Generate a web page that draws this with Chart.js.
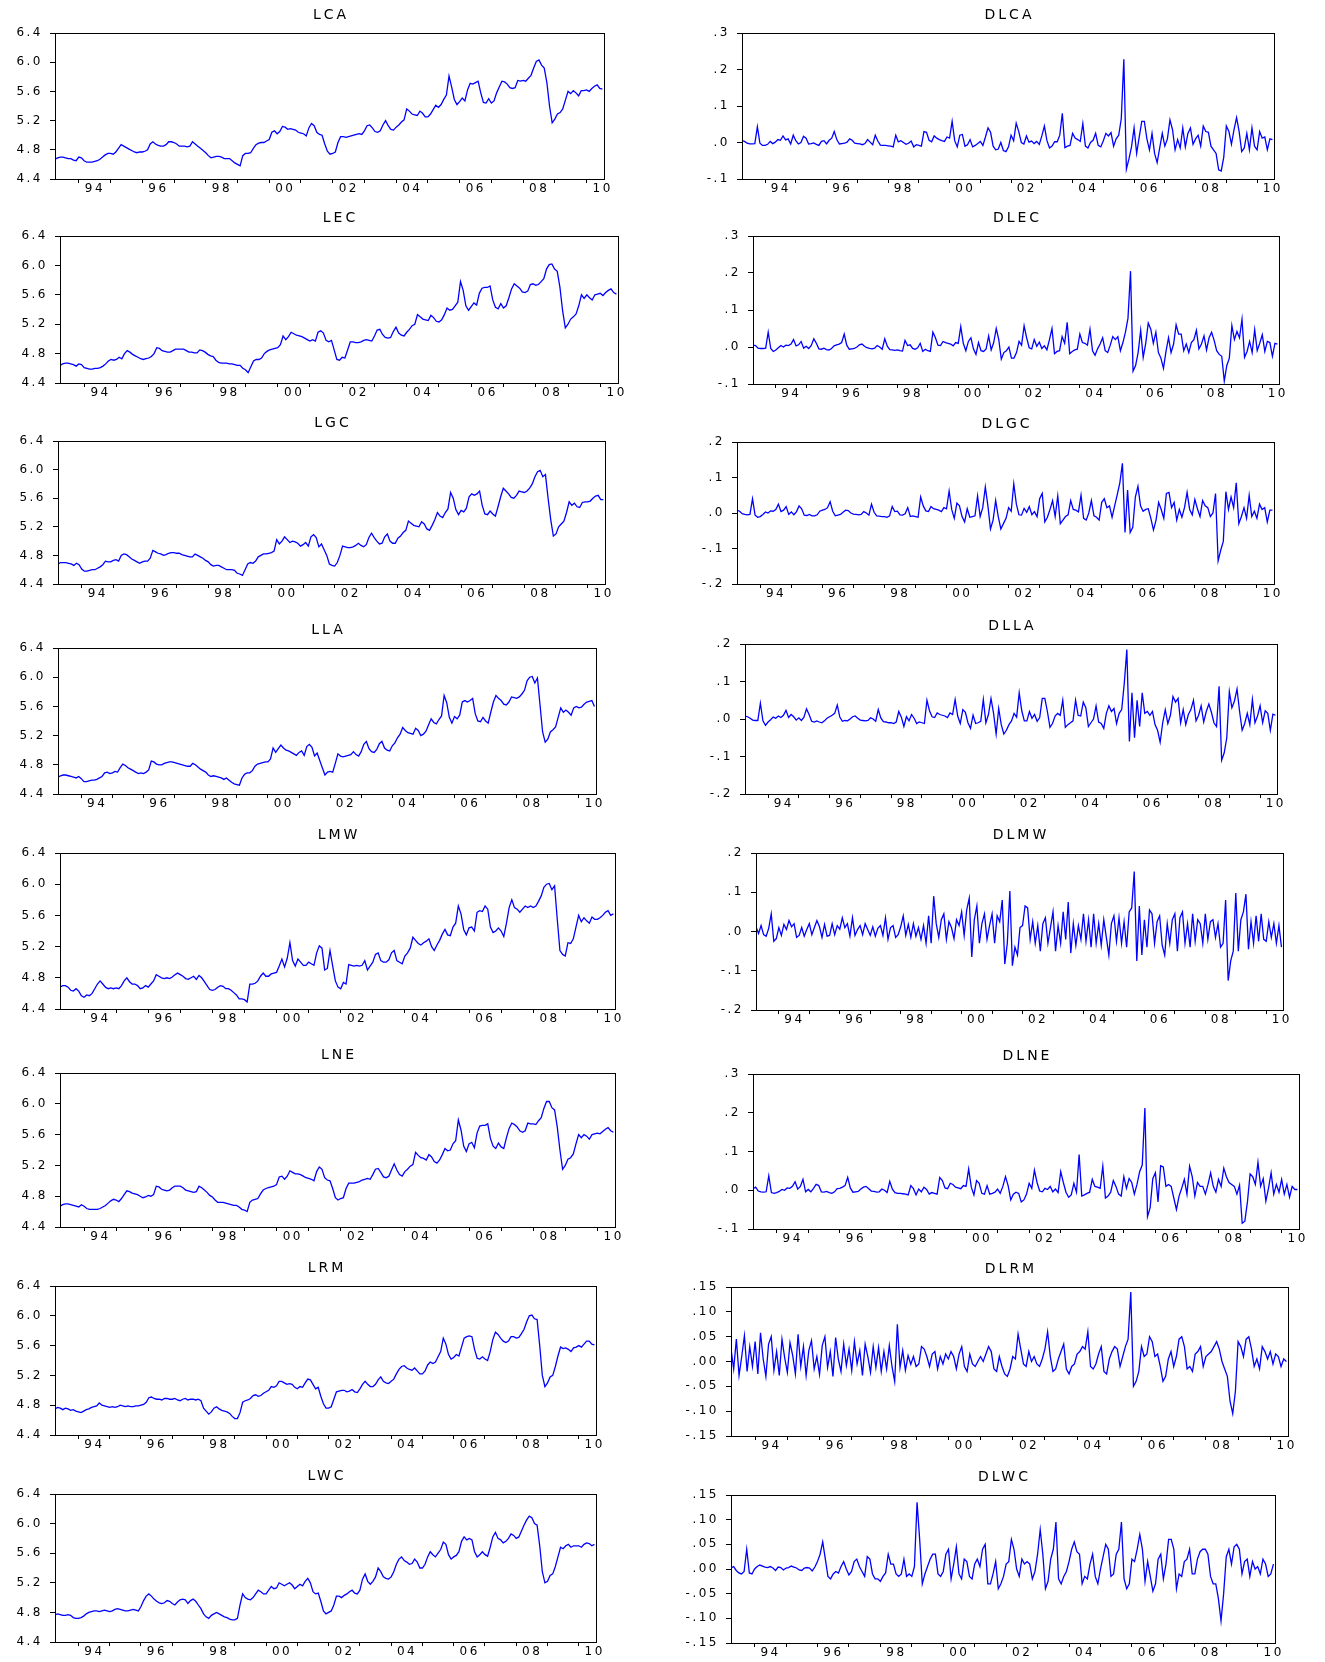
<!DOCTYPE html>
<html>
<head>
<meta charset="utf-8">
<title>Regional gasoline price series</title>
<script src="https://cdn.jsdelivr.net/npm/chart.js@4.4.1/dist/chart.umd.min.js"></script>
<style>
  html, body { margin: 0; padding: 0; background: #fff; }
  #page { position: relative; width: 1325px; height: 1662px; overflow: hidden; }
  .panel { position: absolute; }
</style>
</head>
<body>
<div id="page"></div>
<script>
// one value per month, first observation April 1993
const startYear = 1993.25;
const xMin = 1993.25;
const xMax = 2010.55;
const xTickYears = [1994, 1995, 1996, 1997, 1998, 1999, 2000, 2001, 2002, 2003, 2004, 2005, 2006, 2007, 2008, 2009, 2010];
const xTickLabels = ["94", "", "96", "", "98", "", "00", "", "02", "", "04", "", "06", "", "08", "", "10"];

// ---- levels ----
const lca = [
  4.67, 4.69, 4.70, 4.70, 4.69, 4.68, 4.68, 4.66, 4.65,
  4.70, 4.69, 4.65, 4.63, 4.63, 4.63, 4.64, 4.65, 4.67, 4.70, 4.73, 4.75,
  4.75, 4.74, 4.77, 4.82, 4.87, 4.85, 4.83, 4.81, 4.79, 4.77, 4.76, 4.77,
  4.77, 4.78, 4.80, 4.88, 4.91, 4.88, 4.86, 4.85, 4.85, 4.87, 4.91, 4.91,
  4.90, 4.88, 4.85, 4.85, 4.85, 4.84, 4.85, 4.91, 4.88, 4.85, 4.82, 4.79,
  4.76, 4.72, 4.69, 4.70, 4.71, 4.71, 4.70, 4.68, 4.68, 4.68, 4.65, 4.62,
  4.60, 4.58, 4.72, 4.75, 4.75, 4.76, 4.82, 4.87, 4.89, 4.90, 4.90, 4.92,
  4.94, 5.04, 5.06, 5.02, 5.05, 5.12, 5.11, 5.08, 5.09, 5.08, 5.07, 5.04,
  5.03, 5.02, 4.99, 5.10, 5.16, 5.13, 5.04, 5.01, 5.00, 4.88, 4.78, 4.74,
  4.75, 4.77, 4.90, 4.98, 4.98, 4.97, 4.98, 4.99, 5.00, 5.01, 5.02, 5.01,
  5.06, 5.13, 5.14, 5.10, 5.05, 5.04, 5.06, 5.14, 5.20, 5.13, 5.08, 5.07,
  5.11, 5.14, 5.18, 5.21, 5.36, 5.33, 5.29, 5.28, 5.27, 5.33, 5.30, 5.25,
  5.25, 5.29, 5.35, 5.41, 5.38, 5.42, 5.49, 5.55, 5.81, 5.66, 5.49, 5.42,
  5.46, 5.51, 5.47, 5.62, 5.71, 5.70, 5.72, 5.74, 5.58, 5.45, 5.44, 5.50,
  5.44, 5.47, 5.58, 5.66, 5.74, 5.73, 5.70, 5.65, 5.64, 5.65, 5.75, 5.74,
  5.75, 5.74, 5.78, 5.82, 5.92, 6.01, 6.03, 5.96, 5.92, 5.72, 5.40, 5.17,
  5.22, 5.29, 5.31, 5.36, 5.48, 5.60, 5.57, 5.61, 5.58, 5.54, 5.61, 5.61,
  5.62, 5.60, 5.64, 5.67, 5.69, 5.64, 5.63
];

const lec = [
  4.64, 4.66, 4.67, 4.67, 4.66, 4.65, 4.63, 4.66, 4.65,
  4.61, 4.60, 4.59, 4.59, 4.60, 4.60, 4.61, 4.63, 4.66, 4.70, 4.72, 4.71,
  4.72, 4.75, 4.73, 4.80, 4.84, 4.82, 4.79, 4.77, 4.75, 4.73, 4.72, 4.73,
  4.74, 4.76, 4.80, 4.88, 4.87, 4.84, 4.83, 4.82, 4.82, 4.84, 4.86, 4.86,
  4.86, 4.86, 4.84, 4.82, 4.82, 4.81, 4.81, 4.85, 4.84, 4.82, 4.79, 4.77,
  4.76, 4.71, 4.68, 4.67, 4.67, 4.67, 4.66, 4.66, 4.65, 4.64, 4.64, 4.60,
  4.58, 4.54, 4.62, 4.70, 4.72, 4.72, 4.74, 4.80, 4.83, 4.85, 4.86, 4.87,
  4.88, 4.92, 5.04, 4.99, 5.03, 5.09, 5.07, 5.05, 5.04, 5.03, 5.01, 4.99,
  4.97, 4.99, 4.97, 5.09, 5.11, 5.08, 4.98, 4.96, 4.98, 4.85, 4.72, 4.71,
  4.75, 4.74, 4.85, 4.96, 4.96, 4.95, 4.95, 4.96, 4.98, 4.99, 4.98, 4.97,
  5.04, 5.12, 5.13, 5.06, 5.02, 5.01, 5.02, 5.10, 5.16, 5.08, 5.05, 5.04,
  5.09, 5.13, 5.18, 5.20, 5.33, 5.30, 5.27, 5.26, 5.25, 5.32, 5.29, 5.24,
  5.23, 5.26, 5.33, 5.42, 5.39, 5.40, 5.45, 5.50, 5.78, 5.66, 5.45, 5.39,
  5.44, 5.49, 5.46, 5.62, 5.69, 5.70, 5.70, 5.72, 5.53, 5.43, 5.41, 5.48,
  5.42, 5.45, 5.56, 5.68, 5.75, 5.72, 5.69, 5.64, 5.63, 5.65, 5.74, 5.75,
  5.73, 5.74, 5.78, 5.82, 5.95, 6.01, 6.02, 5.95, 5.92, 5.70, 5.38, 5.15,
  5.20, 5.27, 5.30, 5.34, 5.45, 5.60, 5.55, 5.60, 5.56, 5.53, 5.60, 5.61,
  5.62, 5.59, 5.63, 5.66, 5.68, 5.63, 5.61
];

const lgc = [
  4.68, 4.70, 4.70, 4.70, 4.69, 4.68, 4.66, 4.69, 4.67,
  4.61, 4.58, 4.58, 4.59, 4.60, 4.60, 4.62, 4.64, 4.67, 4.72, 4.71, 4.71,
  4.73, 4.74, 4.72, 4.80, 4.82, 4.81, 4.78, 4.75, 4.73, 4.71, 4.69, 4.71,
  4.72, 4.72, 4.76, 4.87, 4.85, 4.83, 4.82, 4.80, 4.81, 4.83, 4.84, 4.84,
  4.83, 4.83, 4.81, 4.80, 4.79, 4.78, 4.78, 4.82, 4.80, 4.78, 4.76, 4.73,
  4.71, 4.67, 4.65, 4.66, 4.66, 4.64, 4.62, 4.60, 4.60, 4.60, 4.59, 4.55,
  4.54, 4.52, 4.60, 4.68, 4.70, 4.69, 4.72, 4.78, 4.80, 4.82, 4.82, 4.83,
  4.84, 4.86, 5.02, 4.96, 5.00, 5.06, 5.02, 4.98, 5.00, 4.99, 4.97, 4.93,
  4.95, 4.98, 4.93, 5.06, 5.09, 5.05, 4.92, 4.96, 4.88, 4.80, 4.68, 4.66,
  4.65, 4.70, 4.80, 4.93, 4.92, 4.91, 4.91, 4.92, 4.94, 4.97, 4.94, 4.92,
  4.95, 5.05, 5.11, 5.05, 5.00, 4.96, 4.97, 5.06, 5.10, 5.00, 4.97, 4.97,
  5.04, 5.07, 5.12, 5.15, 5.28, 5.25, 5.22, 5.21, 5.20, 5.27, 5.24, 5.17,
  5.15, 5.22, 5.30, 5.40, 5.35, 5.33, 5.40, 5.45, 5.68, 5.60, 5.44, 5.37,
  5.43, 5.41, 5.46, 5.62, 5.66, 5.64, 5.66, 5.70, 5.50, 5.38, 5.37, 5.42,
  5.38, 5.35, 5.48, 5.62, 5.74, 5.70, 5.66, 5.61, 5.60, 5.64, 5.70, 5.69,
  5.68, 5.70, 5.74, 5.80, 5.90, 5.97, 5.99, 5.90, 5.93, 5.60, 5.30, 5.07,
  5.10, 5.20, 5.24, 5.28, 5.40, 5.55, 5.50, 5.53, 5.48, 5.47, 5.54, 5.55,
  5.55, 5.56, 5.60, 5.63, 5.64, 5.58, 5.58
];

const lla = [
  4.63, 4.65, 4.66, 4.66, 4.65, 4.64, 4.63, 4.62, 4.64,
  4.61, 4.57, 4.57, 4.58, 4.59, 4.59, 4.60, 4.62, 4.64, 4.69, 4.70, 4.68,
  4.69, 4.71, 4.70, 4.76, 4.81, 4.79, 4.76, 4.74, 4.72, 4.70, 4.68, 4.69,
  4.68, 4.70, 4.73, 4.85, 4.84, 4.81, 4.80, 4.80, 4.82, 4.83, 4.84, 4.84,
  4.83, 4.82, 4.81, 4.80, 4.79, 4.78, 4.78, 4.82, 4.80, 4.77, 4.74, 4.72,
  4.70, 4.66, 4.64, 4.65, 4.64, 4.63, 4.62, 4.60, 4.62, 4.59, 4.56, 4.54,
  4.53, 4.52, 4.62, 4.67, 4.69, 4.69, 4.72, 4.78, 4.81, 4.82, 4.83, 4.84,
  4.84, 4.88, 5.03, 4.97, 5.02, 5.07, 5.03, 5.00, 4.99, 4.97, 4.95, 4.93,
  4.97, 4.99, 4.93, 5.05, 5.08, 5.04, 4.92, 4.96, 4.86, 4.76, 4.66, 4.70,
  4.71, 4.70, 4.82, 4.95, 4.92, 4.91, 4.92, 4.93, 4.94, 4.98, 4.94, 4.92,
  4.98, 5.08, 5.12, 5.02, 4.98, 4.97, 5.01, 5.09, 5.12, 5.03, 5.00, 4.99,
  5.06, 5.10, 5.17, 5.22, 5.31, 5.27, 5.24, 5.23, 5.22, 5.30, 5.27, 5.20,
  5.22, 5.26, 5.35, 5.43, 5.38, 5.36, 5.42, 5.47, 5.75, 5.65, 5.45, 5.37,
  5.46, 5.43, 5.48, 5.66, 5.68, 5.66, 5.68, 5.71, 5.50, 5.40, 5.39, 5.45,
  5.40, 5.37, 5.52, 5.66, 5.75, 5.71, 5.68, 5.63, 5.62, 5.66, 5.73, 5.72,
  5.71, 5.73, 5.77, 5.82, 5.95, 6.00, 6.01, 5.92, 5.99, 5.62, 5.25, 5.11,
  5.15, 5.25, 5.28, 5.32, 5.45, 5.58, 5.52, 5.55, 5.52, 5.48, 5.58, 5.60,
  5.58, 5.59, 5.63, 5.66, 5.67, 5.68, 5.60
];

const lmw = [
  4.68, 4.70, 4.70, 4.68, 4.64, 4.63, 4.66, 4.63, 4.57,
  4.55, 4.58, 4.57, 4.60, 4.66, 4.72, 4.76, 4.72, 4.68, 4.66, 4.67, 4.66,
  4.67, 4.66, 4.70, 4.76, 4.80, 4.75, 4.72, 4.72, 4.70, 4.66, 4.67, 4.70,
  4.68, 4.72, 4.76, 4.84, 4.82, 4.80, 4.79, 4.80, 4.79, 4.81, 4.84, 4.86,
  4.84, 4.82, 4.79, 4.78, 4.80, 4.82, 4.78, 4.83, 4.80, 4.75, 4.70, 4.65,
  4.64, 4.65, 4.68, 4.70, 4.69, 4.66, 4.66, 4.64, 4.61, 4.58, 4.53, 4.53,
  4.52, 4.49, 4.72, 4.72, 4.73, 4.76, 4.82, 4.86, 4.82, 4.82, 4.85, 4.86,
  4.87, 4.95, 5.04, 4.94, 5.05, 5.25, 5.02, 4.95, 5.04, 5.00, 4.96, 4.96,
  5.00, 4.98, 4.96, 5.12, 5.21, 5.18, 4.90, 4.92, 5.15, 4.95, 4.76, 4.68,
  4.66, 4.74, 4.72, 4.97, 4.96, 4.95, 4.96, 4.95, 4.96, 5.02, 4.90, 4.95,
  5.00, 5.10, 5.12, 5.02, 5.00, 5.00, 5.03, 5.12, 5.15, 5.02, 5.00, 4.98,
  5.08, 5.12, 5.18, 5.32, 5.28, 5.24, 5.22, 5.25, 5.27, 5.30, 5.20, 5.15,
  5.22, 5.28, 5.36, 5.42, 5.35, 5.34, 5.45, 5.50, 5.72, 5.62, 5.42, 5.35,
  5.44, 5.45, 5.40, 5.64, 5.66, 5.65, 5.72, 5.68, 5.45, 5.38, 5.40, 5.44,
  5.40, 5.33, 5.50, 5.70, 5.80, 5.70, 5.68, 5.64, 5.68, 5.72, 5.70, 5.72,
  5.70, 5.72, 5.78, 5.85, 5.96, 6.00, 6.01, 5.93, 5.98, 5.55, 5.15, 5.10,
  5.08, 5.25, 5.24, 5.30, 5.45, 5.60, 5.52, 5.57, 5.53, 5.50, 5.58, 5.55,
  5.55, 5.57, 5.60, 5.64, 5.66, 5.60, 5.62
];

const lne = [
  4.67, 4.69, 4.70, 4.70, 4.69, 4.68, 4.67, 4.66, 4.69,
  4.67, 4.64, 4.63, 4.63, 4.63, 4.63, 4.64, 4.66, 4.68, 4.71, 4.74, 4.76,
  4.75, 4.73, 4.77, 4.82, 4.87, 4.86, 4.84, 4.83, 4.82, 4.80, 4.78, 4.79,
  4.81, 4.80, 4.82, 4.93, 4.92, 4.89, 4.88, 4.87, 4.88, 4.91, 4.93, 4.93,
  4.93, 4.91, 4.88, 4.87, 4.86, 4.85, 4.86, 4.93, 4.91, 4.88, 4.85, 4.81,
  4.79, 4.75, 4.72, 4.72, 4.72, 4.71, 4.70, 4.69, 4.68, 4.68, 4.66, 4.63,
  4.62, 4.60, 4.72, 4.75, 4.76, 4.77, 4.83, 4.88, 4.90, 4.91, 4.92, 4.93,
  4.95, 5.05, 5.06, 5.02, 5.06, 5.13, 5.11, 5.09, 5.09, 5.08, 5.06, 5.04,
  5.03, 5.02, 5.00, 5.12, 5.18, 5.15, 5.04, 5.01, 5.00, 4.90, 4.78, 4.75,
  4.77, 4.78, 4.90, 4.97, 4.97, 4.97, 4.98, 4.99, 5.01, 5.02, 5.03, 5.02,
  5.08, 5.15, 5.16, 5.11, 5.05, 5.04, 5.06, 5.14, 5.22, 5.14, 5.08, 5.06,
  5.12, 5.15, 5.19, 5.21, 5.37, 5.33, 5.30, 5.29, 5.27, 5.34, 5.31, 5.25,
  5.23, 5.27, 5.34, 5.42, 5.39, 5.40, 5.48, 5.52, 5.79, 5.66, 5.45, 5.38,
  5.48, 5.50, 5.43, 5.62, 5.71, 5.72, 5.72, 5.74, 5.55, 5.45, 5.42, 5.49,
  5.44, 5.42, 5.56, 5.68, 5.75, 5.73, 5.70, 5.65, 5.63, 5.65, 5.75, 5.74,
  5.74, 5.73, 5.78, 5.82, 5.94, 6.03, 6.03, 5.95, 5.92, 5.70, 5.40, 5.15,
  5.20, 5.28, 5.30, 5.35, 5.48, 5.60, 5.56, 5.60, 5.58, 5.54, 5.60, 5.61,
  5.62, 5.61, 5.64, 5.67, 5.69, 5.65, 5.63
];

const lrm = [
  4.75, 4.77, 4.76, 4.74, 4.76, 4.75, 4.73, 4.74, 4.72,
  4.71, 4.70, 4.72, 4.74, 4.75, 4.77, 4.78, 4.79, 4.83, 4.80, 4.79, 4.78,
  4.77, 4.78, 4.77, 4.78, 4.80, 4.79, 4.78, 4.79, 4.78, 4.78, 4.79, 4.79,
  4.80, 4.81, 4.84, 4.90, 4.91, 4.89, 4.88, 4.88, 4.87, 4.89, 4.89, 4.88,
  4.88, 4.89, 4.87, 4.86, 4.88, 4.89, 4.87, 4.88, 4.88, 4.87, 4.88, 4.86,
  4.76, 4.72, 4.68, 4.71, 4.76, 4.78, 4.75, 4.73, 4.72, 4.71, 4.69, 4.65,
  4.62, 4.62, 4.70, 4.84, 4.86, 4.87, 4.89, 4.93, 4.94, 4.92, 4.93, 4.96,
  4.98, 5.00, 5.05, 5.04, 5.06, 5.12, 5.12, 5.10, 5.08, 5.09, 5.08, 5.04,
  5.02, 5.05, 5.04, 5.10, 5.15, 5.14, 5.08, 5.02, 5.04, 4.92, 4.82, 4.76,
  4.76, 4.78, 4.88, 4.98, 4.99, 5.00, 5.00, 4.98, 4.99, 5.01, 4.98, 4.97,
  5.02, 5.08, 5.12, 5.08, 5.05, 5.05, 5.08, 5.14, 5.18, 5.12, 5.10, 5.09,
  5.12, 5.15, 5.22, 5.28, 5.32, 5.33, 5.30, 5.28, 5.27, 5.30, 5.26, 5.22,
  5.22, 5.26, 5.34, 5.38, 5.36, 5.38, 5.45, 5.52, 5.70, 5.62, 5.48, 5.42,
  5.44, 5.48, 5.46, 5.58, 5.70, 5.72, 5.73, 5.72, 5.55, 5.43, 5.42, 5.45,
  5.42, 5.40, 5.52, 5.68, 5.78, 5.75, 5.70, 5.66, 5.64, 5.66, 5.72, 5.72,
  5.70, 5.71, 5.76, 5.82, 5.92, 6.00, 6.01, 5.96, 5.95, 5.60, 5.20, 5.05,
  5.10, 5.18, 5.20, 5.32, 5.46, 5.58, 5.56, 5.57, 5.55, 5.52, 5.57, 5.58,
  5.60, 5.58, 5.62, 5.66, 5.66, 5.62, 5.61
];

const lwc = [
  4.77, 4.78, 4.77, 4.76, 4.76, 4.77, 4.76, 4.73, 4.72,
  4.72, 4.73, 4.75, 4.78, 4.80, 4.81, 4.82, 4.82, 4.81, 4.82, 4.83, 4.82,
  4.81, 4.82, 4.84, 4.85, 4.84, 4.83, 4.82, 4.82, 4.83, 4.84, 4.83, 4.82,
  4.88, 4.96, 5.02, 5.05, 5.02, 4.98, 4.95, 4.93, 4.92, 4.93, 4.96, 4.95,
  4.92, 4.90, 4.94, 4.97, 4.98, 4.97, 4.92, 4.96, 4.98, 4.95, 4.90, 4.85,
  4.78, 4.74, 4.72, 4.76, 4.78, 4.80, 4.78, 4.76, 4.74, 4.73, 4.71, 4.70,
  4.70, 4.72, 4.90, 5.05, 5.00, 4.98, 4.97, 5.00, 5.05, 5.10, 5.08, 5.05,
  5.05, 5.10, 5.15, 5.12, 5.13, 5.20, 5.18, 5.16, 5.18, 5.20, 5.17, 5.12,
  5.15, 5.18, 5.16, 5.22, 5.26, 5.20, 5.08, 5.05, 5.06, 4.95, 4.82, 4.78,
  4.80, 4.82, 4.90, 5.02, 5.02, 5.00, 5.03, 5.05, 5.08, 5.10, 5.06, 5.05,
  5.10, 5.25, 5.32, 5.22, 5.18, 5.22, 5.28, 5.40, 5.35, 5.28, 5.26, 5.25,
  5.28, 5.35, 5.45, 5.52, 5.55, 5.50, 5.48, 5.45, 5.46, 5.52, 5.48, 5.40,
  5.40, 5.45, 5.55, 5.62, 5.58, 5.55, 5.60, 5.65, 5.75, 5.72, 5.58, 5.52,
  5.55, 5.57, 5.62, 5.76, 5.82, 5.78, 5.80, 5.78, 5.62, 5.55, 5.58, 5.62,
  5.58, 5.56, 5.68, 5.82, 5.88, 5.80, 5.78, 5.74, 5.76, 5.80, 5.86, 5.84,
  5.80, 5.82, 5.90, 5.98, 6.05, 6.10, 6.08, 6.00, 5.98, 5.70, 5.35, 5.20,
  5.22, 5.30, 5.32, 5.42, 5.55, 5.68, 5.66, 5.70, 5.72, 5.68, 5.70, 5.70,
  5.70, 5.68, 5.72, 5.74, 5.73, 5.70, 5.72
];

// ---- first differences ----
const dlca = [
  .005, .003, -.002, -.004, -.004, -.003, .043, -.002, -.008,
  -.008, -.005, .003, -.003, .001, .008, .006, .018, .007, .010, -.004, .020,
  .005, -.004, .000, .017, .012, -.004, -.003, -.001, -.005, -.008, .003, .005,
  -.004, .006, .012, .030, .008, -.004, -.003, -.002, .001, .010, .006, -.002,
  -.003, -.004, -.006, -.003, .008, .001, -.006, .020, .004, -.007, -.008, -.008,
  -.009, -.010, -.012, .020, .002, .005, .000, -.005, -.002, .004, -.012, -.006,
  -.008, -.010, .030, .028, .006, .002, .018, .012, .008, .005, .003, .015,
  .012, .058, .005, -.012, .020, .022, -.010, -.006, .008, -.012, -.008, -.003,
  .003, -.008, .015, .040, .028, -.010, -.020, -.018, .000, -.022, -.025, -.012,
  .020, .005, .053, .030, .000, -.004, .018, .001, .004, -.003, .003, -.005,
  .018, .045, .005, -.015, -.010, .002, .002, .020, .080, -.014, -.010, -.008,
  .025, .012, .008, .003, .052, -.010, -.015, .000, .006, .025, -.008, -.012,
  .005, .025, .018, .027, -.010, .010, .020, .065, .228, -.073, -.045, -.012,
  .040, -.030, .015, .058, .058, .010, -.020, .025, -.030, -.055, -.015, .025,
  -.010, .010, .062, .035, -.020, .008, -.015, .040, -.012, .025, .040, -.005,
  .010, .020, -.010, .045, .030, .028, -.010, -.020, -.030, -.075, -.078, -.040,
  .045, .030, -.005, .035, .068, .030, -.025, -.015, .025, -.020, .040, -.010,
  -.020, .030, .012, .015, -.020, .010, .008
];

const dlec = [
  .005, .004, -.003, -.004, -.004, -.003, .040, -.004, -.012,
  -.008, -.002, .004, .000, .005, .004, .008, .020, .003, .006, .015, -.003,
  .002, -.004, .004, .022, .010, -.005, -.006, -.003, -.007, -.008, -.004, .003,
  .006, .008, .012, .035, .005, -.006, -.005, -.004, .000, .006, .008, .002,
  -.002, -.004, -.005, -.003, .004, .000, -.006, .022, .002, -.007, -.008, -.009,
  -.008, -.010, -.011, .018, .004, .006, -.004, -.006, -.002, .010, -.012, -.006,
  -.010, -.012, .040, .025, .005, .004, .015, .012, .010, .008, .003, .012,
  .010, .055, .010, -.010, .015, .025, -.005, -.020, .012, -.010, -.012, -.005,
  .030, -.008, .012, .050, .020, -.033, -.015, -.010, .000, -.030, -.030, -.015,
  .015, .005, .057, .025, -.002, -.005, .020, .002, .013, -.004, .003, -.008,
  .020, .050, -.018, -.012, -.010, .028, .010, .067, -.018, -.012, -.008, -.006,
  .035, .012, .010, .005, .048, -.010, -.022, -.005, .008, .025, -.010, -.015,
  .005, .028, .020, .028, -.010, .012, .040, .078, .205, -.065, -.050, -.015,
  .045, -.028, .010, .065, .048, .010, .040, -.015, -.030, -.058, -.012, .025,
  -.015, .008, .060, .035, .035, -.010, .008, -.015, .012, .020, .045, -.005,
  .008, .030, -.008, .025, .040, .018, -.010, -.020, -.025, -.092, -.050, -.030,
  .058, .020, .042, .025, .075, -.028, -.012, .015, -.015, .047, -.010, .010,
  .033, -.012, .015, .012, -.025, .010, .008
];

const dlgc = [
  .008, .005, -.002, -.004, -.005, -.004, .040, -.006, -.012,
  -.010, -.004, .003, .000, .006, .005, .010, .025, .004, .008, .018, -.004,
  .003, -.005, .004, .020, .012, -.006, -.007, -.004, -.008, -.008, -.005, .005,
  .008, .010, .015, .032, .005, -.008, -.006, -.004, .002, .008, .007, .000,
  -.003, -.004, -.005, -.004, .004, .000, -.006, .025, .002, -.008, -.009, -.010,
  -.010, -.012, -.008, .018, .004, .005, -.005, -.006, -.002, .015, -.010, -.008,
  -.010, -.012, .045, .020, .006, .004, .018, .012, .010, .008, .004, .015,
  .012, .062, .010, -.015, .028, .020, -.010, -.025, .012, -.012, -.010, -.008,
  .048, -.010, .015, .073, .020, -.045, -.020, .035, -.010, -.045, -.030, -.015,
  .015, .005, .082, .025, -.005, -.006, .013, .002, .018, -.005, .004, -.010,
  .040, .055, -.025, -.012, .010, .035, -.010, .048, -.030, -.020, -.010, -.005,
  .035, .010, .008, .003, .050, -.015, -.020, .000, .035, -.008, -.012, -.020,
  .030, .040, .015, .020, -.012, .020, .052, .085, .140, -.055, .065, -.055,
  -.040, .045, .075, .020, .005, .010, .012, -.015, -.048, -.020, .030, .010,
  -.015, .055, .058, .015, .030, -.020, .010, -.012, .015, .058, .010, -.005,
  .038, .012, -.010, .035, .020, .015, -.010, .000, .055, -.135, -.105, -.080,
  .060, .010, .045, .015, .085, -.030, -.010, .015, -.015, .050, -.010, .005,
  -.015, .025, .010, .015, -.025, .008, .008
];

const dlla = [
  .008, .006, .002, -.003, -.004, -.004, .042, -.005, -.017,
  -.008, -.002, .005, .002, .008, .004, .010, .023, .004, .012, .006, -.003,
  .003, -.004, .005, .027, .012, -.006, -.008, -.005, -.008, -.010, -.005, .002,
  .006, .010, .015, .037, .005, -.006, -.004, -.005, .000, .006, .008, .002,
  -.003, -.004, -.005, -.004, .003, .000, -.006, .025, .003, -.007, -.008, -.010,
  -.010, -.012, -.008, .020, .005, -.020, .006, -.005, .012, .002, -.012, -.008,
  -.010, -.012, .050, .022, .006, .004, .016, .012, .010, .008, .004, .016,
  .012, .052, .008, -.012, .025, .018, -.010, -.025, .010, -.012, -.010, -.006,
  .052, -.010, .012, .055, .015, -.040, .028, -.015, -.040, -.030, -.015, -.005,
  .015, .005, .070, .022, -.005, -.005, .020, .002, .012, -.006, .004, .055,
  .055, .020, -.022, -.012, .008, .015, .010, .050, -.022, -.015, -.010, -.005,
  .050, .010, .008, .045, .030, -.020, -.010, .000, .035, -.008, -.012, -.025,
  .015, .035, .020, .028, -.012, .015, .025, .095, .185, -.060, .070, -.050,
  .050, -.020, .070, .015, .020, .010, .020, -.015, -.030, -.062, -.010, .025,
  -.012, .010, .060, .045, .055, -.010, .025, -.015, .012, .025, .050, -.005,
  .010, .035, -.008, .020, .040, .018, -.010, -.020, .087, -.110, -.090, -.050,
  .073, .030, .048, .080, .020, -.030, -.012, .015, -.015, .052, -.010, .008,
  .035, -.010, .022, .015, -.030, .013, .010
];

const dlmw = [
  .012, -.005, .015, -.008, -.012, .008, .045, -.025, -.018,
  .010, -.010, .018, .005, .028, .012, .020, -.015, -.010, .010, -.012, .005,
  .020, -.008, .010, .028, .012, -.015, .018, -.012, -.010, .020, -.008, .015,
  .006, .035, .010, .020, -.012, .035, -.010, .005, .015, -.008, .020, .005,
  -.010, .012, -.012, .008, .015, -.010, .035, -.020, .010, .015, -.015, -.008,
  .012, .040, -.010, .018, -.015, .020, -.012, .010, -.020, .015, -.030, .040,
  -.030, .090, .020, -.015, .030, .045, -.020, .025, .010, -.018, .030, .015,
  .050, -.010, .055, .085, -.065, .030, .065, -.030, .020, .045, -.020, .015,
  .045, -.030, .040, .025, .080, -.083, -.030, .103, -.087, -.040, -.060, .010,
  .015, .065, .060, -.020, .025, -.030, .015, -.050, .020, .035, -.030, .010,
  .050, -.050, .015, -.030, .050, -.020, .075, -.055, .020, -.035, .015, -.020,
  .045, -.025, .030, -.040, .045, -.030, .020, -.035, .030, -.015, -.060, .020,
  .040, -.025, .035, -.030, .025, -.040, .050, .060, .153, -.075, .065, -.060,
  .030, -.040, .055, .045, -.030, .025, .040, -.035, -.060, .020, -.030, .030,
  .045, -.050, .035, .050, -.030, .020, -.040, .045, -.025, .030, .020, -.030,
  .045, -.020, .025, .030, -.015, .020, -.040, -.030, .080, -.125, -.075, -.050,
  .098, -.050, .030, .050, .095, -.045, .025, -.030, .040, -.025, .045, -.020,
  -.025, .025, -.015, .020, -.030, .015, -.040
];

const dlne = [
  .004, .008, -.002, -.004, -.005, -.004, .037, -.006, -.008,
  -.006, -.003, .002, .000, .006, .005, .010, .022, .003, .010, .028, -.004,
  .002, -.004, .005, .015, .012, -.004, -.005, -.003, -.006, -.008, -.004, .004,
  .005, .008, .012, .033, .006, -.005, -.004, -.003, .003, .008, .010, .004,
  -.002, -.003, -.005, -.004, .003, .000, -.006, .023, .003, -.006, -.008, -.008,
  -.009, -.010, -.012, .012, .004, -.012, .003, -.004, .008, .002, -.010, -.006,
  -.008, -.010, .033, .025, .006, .004, .018, .015, .008, .006, .004, .012,
  .010, .055, .008, -.012, .025, .018, -.008, -.010, .012, -.010, -.008, -.005,
  .003, -.008, .010, .035, .012, -.025, -.010, -.005, -.008, -.030, -.025, -.010,
  .018, .005, .052, .020, -.002, -.004, .005, .002, .010, -.004, .003, -.006,
  .048, .020, -.005, -.018, -.012, .018, -.005, .092, -.015, -.012, -.008, -.005,
  .028, .010, .008, .005, .062, -.020, -.015, -.005, .025, .010, -.010, -.015,
  .035, .005, .030, .020, -.010, .015, .048, .065, .212, -.068, -.045, .030,
  .045, -.030, .063, .060, .010, .015, .010, -.020, -.050, -.015, .005, .028,
  -.010, .062, .035, -.015, .020, .010, .010, -.010, .015, .045, .010, -.005,
  .028, .010, .057, .035, .020, .015, .010, -.010, .013, -.085, -.080, -.030,
  .042, .035, .015, .072, .010, .030, -.028, .005, .045, -.010, .015, -.005,
  .028, -.010, .015, -.018, .010, .002, .002
];

const dlrm = [
  .025, -.015, .045, -.028, .010, .052, -.020, .030, -.010,
  .040, -.025, .058, .005, -.030, .035, .050, -.018, .020, -.028, .045, .008,
  -.022, .038, .012, -.025, .055, -.010, .030, -.028, .022, .042, -.015, .010,
  -.026, .032, .050, -.012, .020, -.030, .048, .005, -.020, .035, -.008, .025,
  -.018, .040, -.005, .022, -.028, .035, .010, -.022, .030, -.012, .028, -.020,
  .020, -.015, .032, -.010, -.040, .075, -.012, .022, -.018, .012, -.006, .010,
  -.010, -.005, .030, .025, .010, -.010, .015, .020, -.015, .010, -.005, .015,
  .005, .020, .010, -.015, .015, .030, -.010, -.020, .015, -.005, -.010, .000,
  .010, .000, .015, .030, .020, -.015, -.020, .010, -.010, -.025, -.030, -.015,
  .010, .005, .055, .025, -.005, -.010, .020, .000, .010, -.005, -.010, .005,
  .025, .060, .010, -.020, -.015, .005, .020, .035, -.015, -.025, -.010, -.005,
  .015, .020, .030, .025, .060, -.010, -.015, -.005, .015, .030, -.020, -.025,
  .005, .020, .030, .025, -.010, .010, .030, .045, .140, -.050, -.040, -.020,
  .030, .010, .015, .050, .040, .010, .015, -.010, -.040, -.030, .005, .020,
  -.010, .010, .045, .050, .030, -.015, -.010, -.020, .015, .020, .030, -.010,
  .010, .015, .020, .030, .040, .025, .000, -.015, -.030, -.080, -.105, -.060,
  .040, .030, .010, .045, .050, .025, -.010, .005, -.015, .030, .020, .005,
  .020, -.005, .015, .010, -.010, .005, .000
];

const dlwc = [
  .002, .005, -.003, -.008, -.010, -.005, .040, -.008, -.010,
  .000, .005, .008, .006, .004, .003, .005, .002, -.003, .004, .003, -.002,
  .002, .003, .006, .004, .002, -.002, -.003, .002, .003, .002, -.004, .004,
  .015, .030, .055, .020, -.015, -.020, -.010, -.005, -.008, .005, .015, .000,
  -.012, -.005, .015, .020, .005, -.005, -.015, .025, .020, -.010, -.020, -.020,
  -.025, -.015, -.008, .030, .010, .010, -.010, -.015, -.010, .020, -.015, -.010,
  -.015, .005, .135, .060, -.030, -.010, .005, .020, .030, .030, -.010, -.015,
  -.005, .030, .040, -.020, .010, .045, -.010, -.020, .020, .015, -.015, -.020,
  .010, .020, .005, .040, .050, -.030, -.030, -.010, .015, -.040, -.030, -.015,
  .010, .015, .060, .040, .000, -.015, .020, .010, .015, .010, -.020, -.005,
  .030, .080, .030, -.040, -.025, .020, .040, .095, -.020, -.030, -.015, -.005,
  .015, .040, .055, .035, .030, -.030, -.015, -.020, .010, .030, -.015, -.030,
  .000, .025, .050, .040, -.015, -.010, .030, .040, .095, -.020, -.040, -.030,
  .020, .015, .040, .070, .040, -.025, .015, -.015, -.045, -.030, .020, .030,
  -.020, .010, .060, .060, .040, -.040, -.010, -.015, .015, .020, .040, -.010,
  -.010, .020, .035, .040, .040, .030, -.015, -.030, -.030, -.060, -.105, -.050,
  .025, .040, .010, .045, .050, .040, -.010, .015, .020, -.015, .015, .000,
  .005, -.010, .020, .010, -.015, -.010, .010
];

// box = plot area [left, top, right, bottom] in page pixels
const panels = [
  { title: "LCA",  data: lca,  box: [55, 33, 604, 179],    yMin: 4.4, yMax: 6.4, yStep: 0.4, dec: 1, strip: false },
  { title: "DLCA", data: dlca, box: [742, 33, 1274, 179],  yMin: -0.1, yMax: 0.3, yStep: 0.1, dec: 1, strip: true },
  { title: "LEC",  data: lec,  box: [60, 236, 618, 383],   yMin: 4.4, yMax: 6.4, yStep: 0.4, dec: 1, strip: false },
  { title: "DLEC", data: dlec, box: [753, 236, 1279, 384], yMin: -0.1, yMax: 0.3, yStep: 0.1, dec: 1, strip: true },
  { title: "LGC",  data: lgc,  box: [58, 441, 605, 584],   yMin: 4.4, yMax: 6.4, yStep: 0.4, dec: 1, strip: false },
  { title: "DLGC", data: dlgc, box: [737, 442, 1274, 584], yMin: -0.2, yMax: 0.2, yStep: 0.1, dec: 1, strip: true },
  { title: "LLA",  data: lla,  box: [58, 648, 596, 794],   yMin: 4.4, yMax: 6.4, yStep: 0.4, dec: 1, strip: false },
  { title: "DLLA", data: dlla, box: [745, 644, 1277, 794], yMin: -0.2, yMax: 0.2, yStep: 0.1, dec: 1, strip: true },
  { title: "LMW",  data: lmw,  box: [60, 853, 615, 1009],  yMin: 4.4, yMax: 6.4, yStep: 0.4, dec: 1, strip: false },
  { title: "DLMW", data: dlmw, box: [756, 853, 1283, 1010], yMin: -0.2, yMax: 0.2, yStep: 0.1, dec: 1, strip: true },
  { title: "LNE",  data: lne,  box: [60, 1073, 615, 1227], yMin: 4.4, yMax: 6.4, yStep: 0.4, dec: 1, strip: false },
  { title: "DLNE", data: dlne, box: [753, 1074, 1299, 1229], yMin: -0.1, yMax: 0.3, yStep: 0.1, dec: 1, strip: true },
  { title: "LRM",  data: lrm,  box: [55, 1286, 596, 1435], yMin: 4.4, yMax: 6.4, yStep: 0.4, dec: 1, strip: false },
  { title: "DLRM", data: dlrm, box: [731, 1287, 1288, 1436], yMin: -0.15, yMax: 0.15, yStep: 0.05, dec: 2, strip: true },
  { title: "LWC",  data: lwc,  box: [55, 1494, 596, 1642], yMin: 4.4, yMax: 6.4, yStep: 0.4, dec: 1, strip: false },
  { title: "DLWC", data: dlwc, box: [731, 1495, 1275, 1643], yMin: -0.15, yMax: 0.15, yStep: 0.05, dec: 2, strip: true },
];

function fmtY(v, dec, strip) {
  let s = Math.abs(v).toFixed(dec);
  if (strip) s = s.replace(/^0/, "");
  return (v < -1e-9 ? "-" : "") + s;
}

const tickFont = { family: "'DejaVu Sans', Verdana, sans-serif", size: 12 };
const spacing = 2.5; // the labels in the original are wide and loosely set

// frame round the plot area plus the series name above it
const framePlugin = {
  id: "frame",
  beforeDraw(chart) {
    chart.ctx.letterSpacing = spacing + "px";
  },
  afterDraw(chart) {
    const a = chart.chartArea;
    const ctx = chart.ctx;
    ctx.save();
    ctx.strokeStyle = "#000";
    ctx.lineWidth = 1;
    ctx.strokeRect(Math.round(a.left) + 0.5, Math.round(a.top) + 0.5,
      Math.round(a.right - a.left), Math.round(a.bottom - a.top));
    ctx.fillStyle = "#000";
    ctx.font = "14px 'DejaVu Sans', Verdana, sans-serif";
    ctx.letterSpacing = "3px";
    ctx.textAlign = "center";
    ctx.textBaseline = "middle";
    ctx.fillText(chart.options.plugins.frame.text, (a.left + a.right) / 2 + 1.5, a.top - 18);
    ctx.restore();
  }
};

const padL = 50, padT = 30, padR = 26, padB = 24;
const page = document.getElementById("page");

panels.forEach(function (p) {
  const l = p.box[0], t = p.box[1], r = p.box[2], b = p.box[3];
  const w = r - l + padL + padR;
  const h = b - t + padT + padB;
  const wrap = document.createElement("div");
  wrap.className = "panel";
  wrap.style.left = (l - padL) + "px";
  wrap.style.top = (t - padT) + "px";
  wrap.style.width = w + "px";
  wrap.style.height = h + "px";
  const canvas = document.createElement("canvas");
  canvas.width = w;
  canvas.height = h;
  wrap.appendChild(canvas);
  page.appendChild(wrap);

  const pts = p.data.map(function (v, i) { return { x: startYear + i / 12, y: v }; });
  const perYear = (r - l) / (xMax - xMin);

  new Chart(canvas, {
    type: "line",
    data: {
      datasets: [{
        data: pts,
        borderColor: "#0000ff",
        borderWidth: 1.3,
        pointRadius: 0,
        tension: 0,
        fill: false,
      }],
    },
    options: {
      responsive: false,
      animation: false,
      events: [],
      layout: { padding: { left: 0, top: padT, right: padR, bottom: 0 } },
      plugins: {
        legend: { display: false },
        tooltip: { enabled: false },
        frame: { text: p.title },
      },
      scales: {
        x: {
          type: "linear",
          min: xMin,
          max: xMax,
          afterBuildTicks: function (s) { s.ticks = xTickYears.map(function (v) { return { value: v }; }); },
          afterFit: function (s) { s.height = padB; },
          border: { display: false },
          grid: { drawOnChartArea: false, color: "#000", tickLength: 4 },
          ticks: {
            autoSkip: false,
            maxRotation: 0,
            padding: -1,
            color: "#000",
            font: tickFont,
            labelOffset: perYear * 0.47 + spacing / 2,
            callback: function (v) {
              const k = xTickYears.indexOf(Math.round(v));
              return k >= 0 ? xTickLabels[k] : "";
            },
          },
        },
        y: {
          min: p.yMin,
          max: p.yMax,
          afterFit: function (s) { s.width = padL; },
          border: { display: false },
          grid: { drawOnChartArea: false, color: "#000", tickLength: 5 },
          ticks: {
            stepSize: p.yStep,
            padding: 7,
            color: "#000",
            font: tickFont,
            callback: function (v) { return fmtY(v, p.dec, p.strip); },
          },
        },
      },
    },
    plugins: [framePlugin],
  });
});
</script>
</body>
</html>
